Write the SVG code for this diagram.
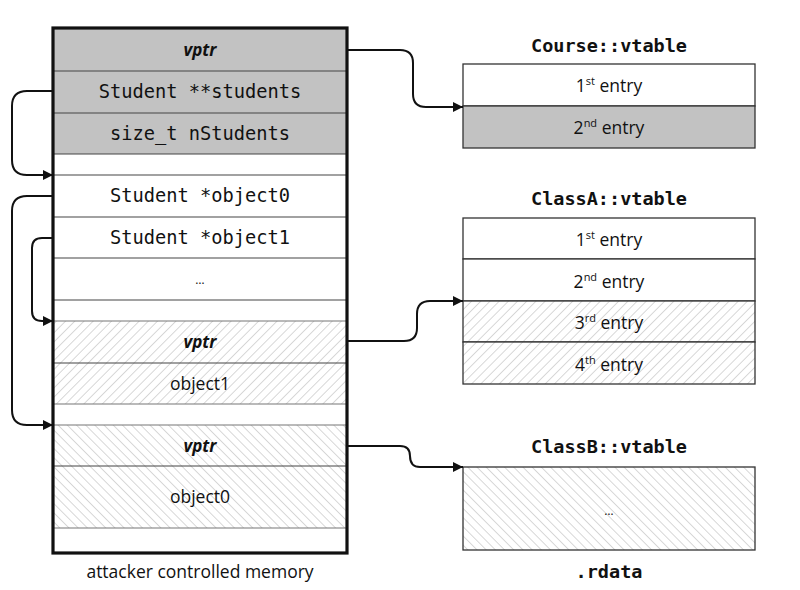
<svg xmlns="http://www.w3.org/2000/svg" width="800" height="590" viewBox="0 0 800 590">
<style>
.mono{font-family:"DejaVu Sans Mono","Liberation Mono",monospace;font-size:18.7px;fill:#111;text-anchor:middle}
.title{font-family:"DejaVu Sans Mono","Liberation Mono",monospace;font-size:18.5px;font-weight:bold;fill:#111;text-anchor:middle}
.sans{font-family:"Open Sans","Liberation Sans",sans-serif;font-size:17.5px;fill:#111;text-anchor:middle}
.vptr{font-family:"Open Sans","Liberation Sans",sans-serif;font-size:17px;font-weight:bold;font-style:italic;fill:#111;text-anchor:middle}
.sup{font-size:11px}
.row{stroke:#444;stroke-width:1.2}
.tbl{stroke:#333;stroke-width:1.3}
.conn{fill:none;stroke:#111;stroke-width:2}
</style>
<defs>
<pattern id="fwd" patternUnits="userSpaceOnUse" width="6.5" height="6.5" patternTransform="rotate(45)">
<rect width="6.5" height="6.5" fill="#fff"/>
<line x1="0" y1="0" x2="0" y2="6.5" stroke="#b8b8b8" stroke-width="1.1"/>
</pattern>
<pattern id="bwd" patternUnits="userSpaceOnUse" width="6.5" height="6.5" patternTransform="rotate(-45)">
<rect width="6.5" height="6.5" fill="#fff"/>
<line x1="0" y1="0" x2="0" y2="6.5" stroke="#b8b8b8" stroke-width="1.1"/>
</pattern>
<marker id="arr" viewBox="0 0 10 10" refX="10" refY="5" markerWidth="11" markerHeight="10" markerUnits="userSpaceOnUse" orient="auto">
<path d="M0,0 L10,5 L0,10 z" fill="#111"/>
</marker>
</defs>

<g id="memory">
<rect x="53" y="28" width="294" height="126" fill="#c2c2c2"/>
<rect x="53" y="154" width="294" height="167" fill="#fff"/>
<rect x="53" y="321" width="294" height="83" fill="url(#fwd)"/>
<rect x="53" y="404" width="294" height="21" fill="#fff"/>
<rect x="53" y="425" width="294" height="103" fill="url(#bwd)"/>
<rect x="53" y="528" width="294" height="25" fill="#fff"/>
<g class="row">
<line x1="53" y1="71" x2="347" y2="71"/>
<line x1="53" y1="113" x2="347" y2="113"/>
<line x1="53" y1="154" x2="347" y2="154"/>
<line x1="53" y1="175" x2="347" y2="175"/>
<line x1="53" y1="217" x2="347" y2="217"/>
<line x1="53" y1="258" x2="347" y2="258"/>
<line x1="53" y1="300" x2="347" y2="300"/>
<line x1="53" y1="321" x2="347" y2="321" stroke="#777"/>
<line x1="53" y1="363" x2="347" y2="363"/>
<line x1="53" y1="404" x2="347" y2="404" stroke="#777"/>
<line x1="53" y1="425" x2="347" y2="425" stroke="#777"/>
<line x1="53" y1="466" x2="347" y2="466"/>
<line x1="53" y1="528" x2="347" y2="528" stroke="#777"/>
</g>
<rect x="53" y="28" width="294" height="525" fill="none" stroke="#111" stroke-width="3.2"/>
<text class="vptr" x="200" y="56">vptr</text>
<text class="mono" x="200" y="98">Student **students</text>
<text class="mono" x="200" y="140">size_t nStudents</text>
<text class="mono" x="200" y="202">Student *object0</text>
<text class="mono" x="200" y="244">Student *object1</text>
<text class="sans" x="200" y="284" style="font-size:12px">…</text>
<text class="vptr" x="200" y="348">vptr</text>
<text class="sans" x="200" y="390">object1</text>
<text class="vptr" x="200" y="452">vptr</text>
<text class="sans" x="200" y="503">object0</text>
<text class="sans" x="200" y="578">attacker controlled memory</text>
</g>

<g id="course-vtable">
<text class="title" x="609" y="52">Course::vtable</text>
<rect x="463" y="64" width="292" height="42" fill="#fff" class="tbl"/>
<rect x="463" y="106" width="292" height="42" fill="#c2c2c2" class="tbl"/>
<text class="sans" x="609" y="92">1<tspan class="sup" dy="-7">st</tspan><tspan dy="7"> entry</tspan></text>
<text class="sans" x="609" y="134">2<tspan class="sup" dy="-7">nd</tspan><tspan dy="7"> entry</tspan></text>
</g>

<g id="classA-vtable">
<text class="title" x="609" y="205">ClassA::vtable</text>
<rect x="463" y="218" width="292" height="41" fill="#fff" class="tbl"/>
<rect x="463" y="259" width="292" height="42" fill="#fff" class="tbl"/>
<rect x="463" y="301" width="292" height="41" fill="url(#fwd)" class="tbl"/>
<rect x="463" y="342" width="292" height="42" fill="url(#fwd)" class="tbl"/>
<text class="sans" x="609" y="246">1<tspan class="sup" dy="-7">st</tspan><tspan dy="7"> entry</tspan></text>
<text class="sans" x="609" y="288">2<tspan class="sup" dy="-7">nd</tspan><tspan dy="7"> entry</tspan></text>
<text class="sans" x="609" y="329">3<tspan class="sup" dy="-7">rd</tspan><tspan dy="7"> entry</tspan></text>
<text class="sans" x="609" y="371">4<tspan class="sup" dy="-7">th</tspan><tspan dy="7"> entry</tspan></text>
</g>

<g id="classB-vtable">
<text class="title" x="609" y="453">ClassB::vtable</text>
<rect x="463" y="467" width="292" height="83" fill="url(#bwd)" class="tbl"/>
<text class="sans" x="609" y="515" style="font-size:12px">…</text>
<text class="title" x="609" y="578">.rdata</text>
</g>

<g id="connectors">
<path class="conn" marker-end="url(#arr)" d="M347,50 H400 Q413,50 413,63 V94 Q413,107 426,107 H463"/>
<path class="conn" marker-end="url(#arr)" d="M347,341 H404 Q417,341 417,328 V314 Q417,301 430,301 H463"/>
<path class="conn" marker-end="url(#arr)" d="M347,446 H400 Q410,446 410,456 Q410,467 420,467 H463"/>
<path class="conn" marker-end="url(#arr)" d="M53,91 H27 Q12,91 12,106 V160 Q12,175 27,175 H53"/>
<path class="conn" marker-end="url(#arr)" d="M53,196 H27 Q12,196 12,211 V410 Q12,425 27,425 H53"/>
<path class="conn" marker-end="url(#arr)" d="M53,238 H42 Q32,238 32,248 V311 Q32,321 42,321 H53"/>
</g>
</svg>
